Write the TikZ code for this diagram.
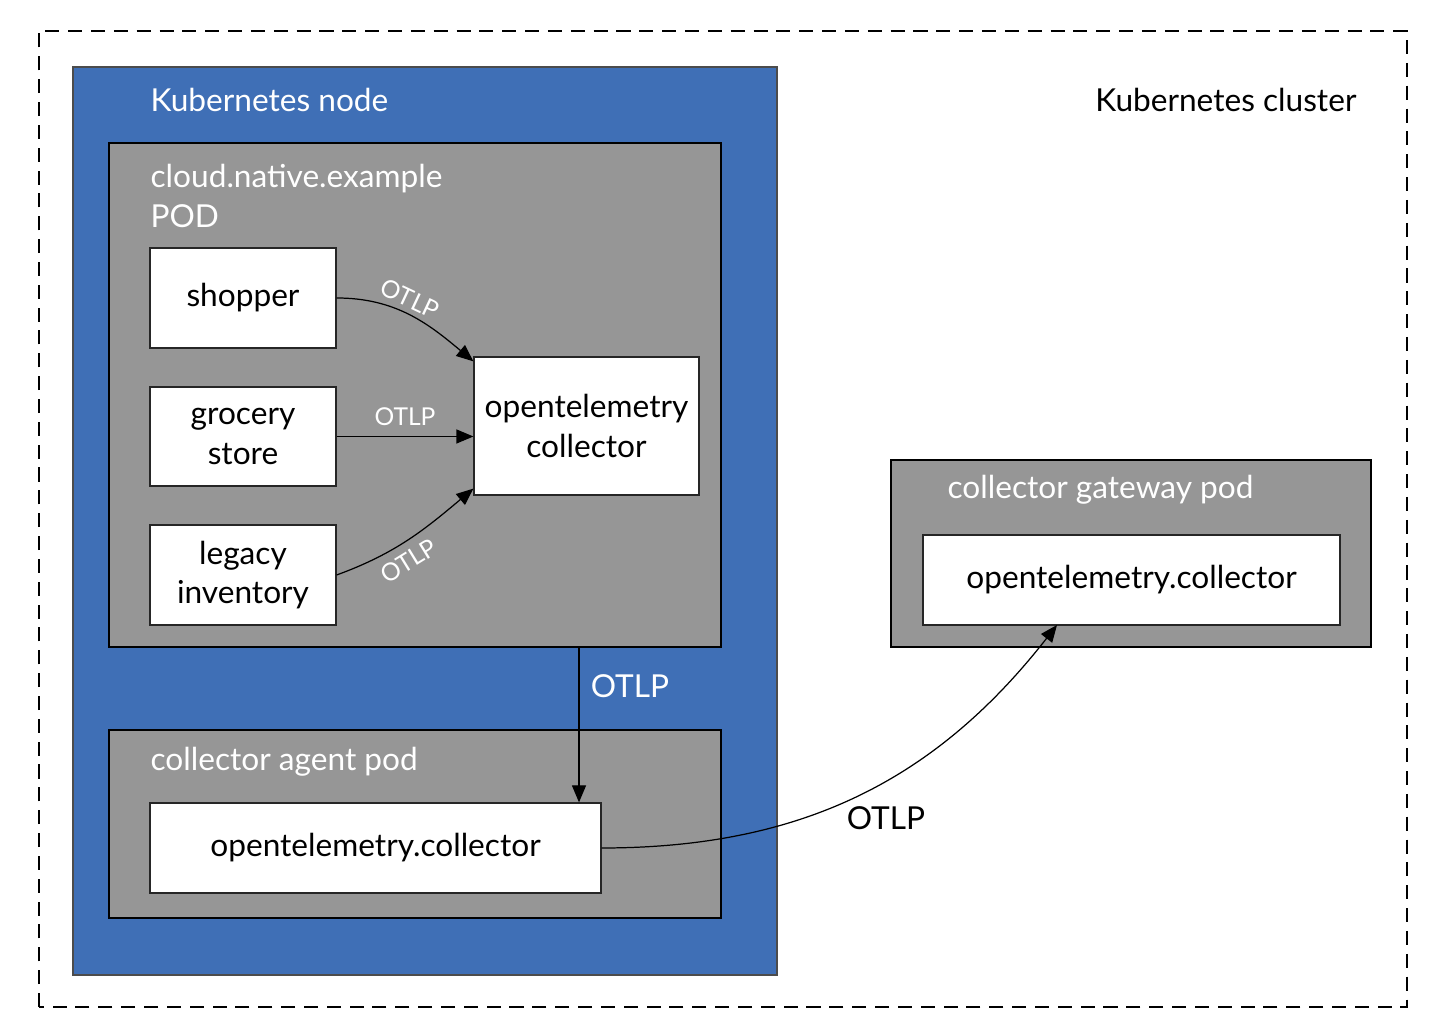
\documentclass[tikz,border=0pt]{standalone}
\usepackage{fontspec}
\setmainfont{Lato}
\usepackage{tikz}
\usetikzlibrary{calc,shapes,positioning}
\usetikzlibrary{arrows.meta}
\tikzset{>={Triangle[width=2.8mm,length=3.4mm]}}
\definecolor{nodeblue}{HTML}{3F6FB6}
\definecolor{podgray}{HTML}{969696}

\begin{document}
\begin{tikzpicture}[font=\fontsize{18}{22.5}\selectfont, line width=0.7pt]
    \tikzstyle{wnode} = [draw=black!85, fill=white, rectangle, inner sep = 2pt, align=center]
    \tikzstyle{gnode} = [draw=black, fill=podgray, rectangle, inner sep = 0pt]
    \tikzstyle{tnode} = [text=white, inner sep = 0pt, align=left]
    \tikzstyle{lbl} = [text=white, font=\fontsize{14}{16}\selectfont, inner sep = 3pt]

    \useasboundingbox (0,0) rectangle (28.82,20.68);

    \draw[dashed, dash pattern=on 8pt off 5pt] (0.78,0.54) rectangle (28.14,20.06);
    \node[anchor=east, inner sep=0pt] (cluster) at (27.14,18.68) {Kubernetes cluster};

    \node[draw=black!70, fill=nodeblue, minimum width=14.08cm, minimum height=18.16cm] (knode) at (8.5,10.26) {};
    \node[tnode, anchor=west] (knodelbl) at (3.0,18.68) {Kubernetes node};

    \node[gnode, minimum width=12.24cm, minimum height=10.08cm] (pod) at (8.30,12.78) {};
    \node[tnode, anchor=west] (podlbl) at (3.0,16.76) {cloud.native.example\\POD};

    \node[wnode, minimum width=3.72cm, minimum height=2.0cm] (shop) at (4.86,14.72) {shopper};
    \node[wnode, minimum width=3.72cm, minimum height=1.98cm] (groc) at (4.86,11.95) {grocery\\store};
    \node[wnode, minimum width=3.72cm, minimum height=2.0cm] (legacy) at (4.86,9.18) {legacy\\inventory};
    \node[wnode, minimum width=4.5cm, minimum height=2.76cm] (col) at (11.73,12.16) {opentelemetry\\collector};

    \node[gnode, minimum width=12.24cm, minimum height=3.76cm] (agent) at (8.30,4.2) {};
    \node[tnode, anchor=west] (agentlbl) at (3.0,5.44) {collector agent pod};
    \node[wnode, minimum width=9.02cm, minimum height=1.8cm] (agentcol) at (7.51,3.72) {opentelemetry.collector};

    \node[gnode, minimum width=9.6cm, minimum height=3.74cm] (gw) at (22.62,9.61) {};
    \node[tnode, anchor=west] (gwlbl) at (18.94,10.88) {collector gateway pod};
    \node[wnode, minimum width=8.34cm, minimum height=1.8cm] (gwcol) at (22.63,9.08) {opentelemetry.collector};

    \coordinate (podout) at (11.58,7.74);
    \coordinate (gwin) at (21.14,8.18);

    \draw[->] (shop.east) to[out=0, in=140] node[lbl, above, sloped, pos=0.45] {OTLP} ($(col.north west)+(0,-0.1)$);
    \draw[->] (groc.east) -- node[lbl, above, yshift=3pt] {OTLP} (groc.east -| col.west);
    \draw[->] (legacy.east) to[out=20, in=220] node[lbl, below, sloped, pos=0.42, yshift=-2pt] {OTLP} ($(col.south west)+(0,0.14)$);

    \draw[->] (podout) -- node[text=white, right, xshift=3pt, pos=0.25] {OTLP} (podout |- agentcol.north);
    \draw[->] (agentcol.east) to[out=0, in=232] node[below right, pos=0.5, xshift=-10pt, yshift=-3pt] {OTLP} (gwin);

  \end{tikzpicture}
\end{document}
